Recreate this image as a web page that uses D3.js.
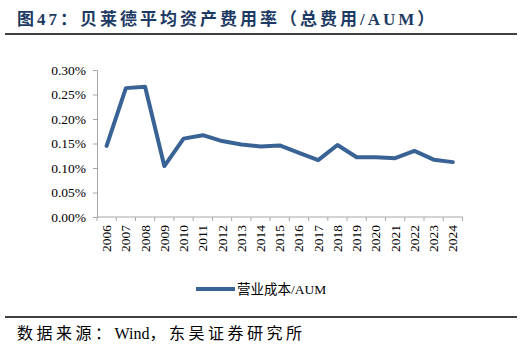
<!DOCTYPE html>
<html>
<head>
<meta charset="utf-8">
<script src="https://cdn.jsdelivr.net/npm/d3@7"></script>
<style>
  body { margin: 0; background: #fff; }
  svg { display: block; }
  text { font-family: "Liberation Serif", "Times New Roman", "Noto Sans CJK SC", serif; }
</style>
</head>
<body>
<div id="chart"></div>
<script>
// data
var years = ["2006","2007","2008","2009","2010","2011","2012","2013","2014","2015",
             "2016","2017","2018","2019","2020","2021","2022","2023","2024"];
var ratio = [0.145,0.263,0.266,0.104,0.160,0.167,0.155,0.148,0.144,0.146,
             0.131,0.116,0.147,0.122,0.122,0.120,0.135,0.117,0.112];
var yTicks = [0, 0.05, 0.10, 0.15, 0.20, 0.25, 0.30];
var seriesName = "营业成本/AUM";

var W = 522, H = 349;
var svg = d3.select("#chart").append("svg").attr("width", W).attr("height", H);

// title + rules
svg.append("text")
    .attr("x", 17).attr("y", 25)
    .attr("font-size", 17).attr("font-weight", "bold")
    .attr("letter-spacing", 3)
    .attr("fill", "#1d3a64")
    .text("图47：贝莱德平均资产费用率（总费用/AUM）");
svg.append("line").attr("x1", 5).attr("x2", 517).attr("y1", 34).attr("y2", 34)
    .attr("stroke", "#000").attr("stroke-width", 1.5);
svg.append("line").attr("x1", 5).attr("x2", 517).attr("y1", 317).attr("y2", 317)
    .attr("stroke", "#000").attr("stroke-width", 1.5);
var src = svg.append("text")
    .attr("x", 17).attr("y", 339)
    .attr("font-size", 16);
src.append("tspan").attr("letter-spacing", 3.5).text("数据来源：");
src.append("tspan").text("Wind");
src.append("tspan").attr("letter-spacing", 3.5).text("，东吴证券研究所");

var x = d3.scaleBand().domain(years).range([97, 462.5]);
var y = d3.scaleLinear().domain([0, 0.30]).range([217, 70]);

var axisColor = "#a6a6a6";

// y axis
var yAxis = svg.append("g").attr("transform", "translate(97,0)")
    .call(d3.axisLeft(y).tickValues(yTicks).tickSize(4).tickPadding(7)
        .tickFormat(function(d) { return (d).toFixed(2) + "%"; }));
yAxis.select(".domain").attr("stroke", axisColor);
yAxis.selectAll(".tick line").attr("stroke", axisColor);
yAxis.selectAll("text").attr("font-size", 13.5).attr("fill", "#000")
    .attr("font-family", "Liberation Serif, serif");

// x axis (ticks at band edges)
var xg = svg.append("g").attr("transform", "translate(0,217)");
xg.append("line").attr("x1", 97).attr("x2", 462.5).attr("y1", 0).attr("y2", 0)
    .attr("stroke", axisColor);
xg.selectAll("line.tk").data(years.concat(["end"])).enter().append("line")
    .attr("class", "tk")
    .attr("x1", function(d, i) { return 97 + i * x.step(); })
    .attr("x2", function(d, i) { return 97 + i * x.step(); })
    .attr("y1", 0).attr("y2", 4)
    .attr("stroke", axisColor);
xg.selectAll("text").data(years).enter().append("text")
    .attr("transform", function(d) {
        return "translate(" + (x(d) + x.bandwidth() / 2 + 4.5) + ",8) rotate(-90)";
    })
    .attr("text-anchor", "end")
    .attr("font-size", 13.5)
    .text(function(d) { return d; });

// line
var line = d3.line()
    .x(function(d, i) { return x(years[i]) + x.bandwidth() / 2; })
    .y(function(d) { return y(d); });
svg.append("path").datum(ratio)
    .attr("d", line)
    .attr("fill", "none")
    .attr("stroke", "#3a6395")
    .attr("stroke-width", 4)
    .attr("stroke-linejoin", "round")
    .attr("stroke-linecap", "round");

// legend
svg.append("line").attr("x1", 196).attr("x2", 235).attr("y1", 289).attr("y2", 289)
    .attr("stroke", "#3a6395").attr("stroke-width", 4);
svg.append("text").attr("x", 237).attr("y", 294)
    .attr("font-size", 13.5)
    .text(seriesName);
</script>
</body>
</html>
